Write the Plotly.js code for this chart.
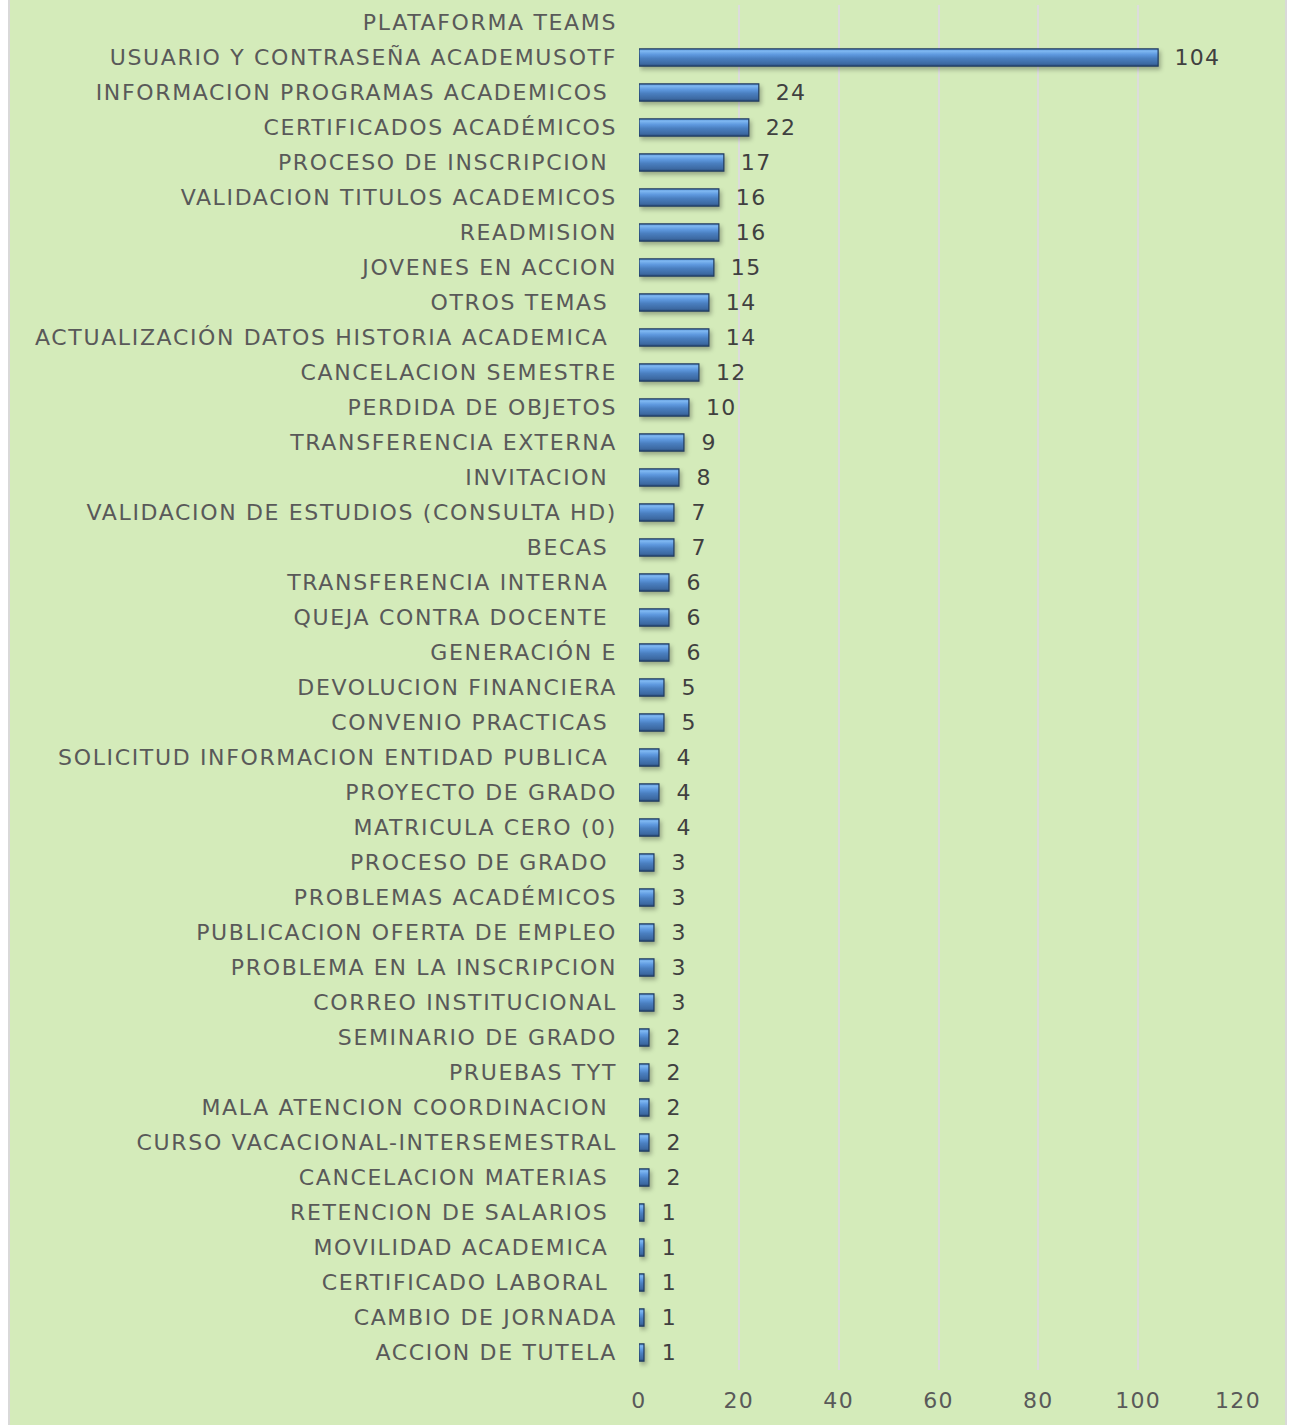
<!DOCTYPE html>
<html>
<head>
<meta charset="utf-8">
<script src="https://cdn.plot.ly/plotly-3.0.1.min.js"></script>
<style>
html,body{margin:0;padding:0;background:#ffffff;}
#wrap{position:absolute;left:8px;top:0;width:1279px;height:1425px;border-left:2px solid #d9d9d9;border-right:2px solid #d9d9d9;box-sizing:border-box;}
#chart{width:1275px;height:1425px;}
#chart .ytick text {letter-spacing:1.65px;}
#chart .xtick text, #chart .bartext text, #chart text.bartext {letter-spacing:1.3px;}
#chart .point path {filter: drop-shadow(2px 3px 2px rgba(0,0,0,0.28));}
</style>
</head>
<body>
<div id="wrap"><div id="chart"></div></div>
<script>
const NB = '\u00a0';
const categories = [
  'PLATAFORMA TEAMS',
  'USUARIO Y CONTRASEÑA ACADEMUSOTF',
  'INFORMACION PROGRAMAS ACADEMICOS' + NB,
  'CERTIFICADOS ACADÉMICOS',
  'PROCESO DE INSCRIPCION' + NB,
  'VALIDACION TITULOS ACADEMICOS',
  'READMISION',
  'JOVENES EN ACCION',
  'OTROS TEMAS' + NB,
  'ACTUALIZACIÓN DATOS HISTORIA ACADEMICA' + NB,
  'CANCELACION SEMESTRE',
  'PERDIDA DE OBJETOS',
  'TRANSFERENCIA EXTERNA',
  'INVITACION' + NB,
  'VALIDACION DE ESTUDIOS (CONSULTA HD)',
  'BECAS' + NB,
  'TRANSFERENCIA INTERNA' + NB,
  'QUEJA CONTRA DOCENTE' + NB,
  'GENERACIÓN E',
  'DEVOLUCION FINANCIERA',
  'CONVENIO PRACTICAS' + NB,
  'SOLICITUD INFORMACION ENTIDAD PUBLICA' + NB,
  'PROYECTO DE GRADO',
  'MATRICULA CERO (0)',
  'PROCESO DE GRADO' + NB,
  'PROBLEMAS ACADÉMICOS',
  'PUBLICACION OFERTA DE EMPLEO',
  'PROBLEMA EN LA INSCRIPCION',
  'CORREO INSTITUCIONAL',
  'SEMINARIO DE GRADO',
  'PRUEBAS TYT',
  'MALA ATENCION COORDINACION' + NB,
  'CURSO VACACIONAL-INTERSEMESTRAL',
  'CANCELACION MATERIAS' + NB,
  'RETENCION DE SALARIOS' + NB,
  'MOVILIDAD ACADEMICA' + NB,
  'CERTIFICADO LABORAL' + NB,
  'CAMBIO DE JORNADA',
  'ACCION DE TUTELA'
];
const values = [null, 104, 24, 22, 17, 16, 16, 15, 14, 14, 12, 10, 9, 8, 7, 7, 6, 6, 6, 5, 5, 4, 4, 4, 3, 3, 3, 3, 3, 2, 2, 2, 2, 2, 1, 1, 1, 1, 1];
const xTicks = [0, 20, 40, 60, 80, 100, 120];

const FONT = "'DejaVu Sans', Verdana, sans-serif";

const trace = {
  type: 'bar',
  orientation: 'h',
  y: categories,
  x: values,
  marker: {color: '#4a7ebb', line: {color: '#1f3a60', width: 1.2}},
  text: values.map(v => v === null ? '' : NB + NB + v),
  textposition: 'outside',
  constraintext: 'none',
  cliponaxis: false,
  textfont: {family: FONT, size: 22, color: '#404040'},
  hoverinfo: 'none'
};

const layout = {
  width: 1275,
  height: 1425,
  paper_bgcolor: '#d4ebba',
  plot_bgcolor: '#d4ebba',
  margin: {l: 629, r: 47, t: 5, b: 55},
  bargap: 0.51,
  showlegend: false,
  font: {family: FONT, size: 22, color: '#595959'},
  xaxis: {
    range: [0, 120],
    tickvals: xTicks,
    ticktext: xTicks.map(String),
    showgrid: true,
    gridcolor: '#dcdcdc',
    gridwidth: 2,
    zeroline: false,
    showline: false,
    ticks: '',
    ticklabelstandoff: 15,
    tickfont: {family: FONT, size: 22, color: '#595959'}
  },
  yaxis: {
    type: 'category',
    autorange: 'reversed',
    showgrid: false,
    zeroline: false,
    showline: false,
    ticks: '',
    ticklabelstandoff: 21,
    tickfont: {family: FONT, size: 22, color: '#595959'}
  }
};

Plotly.newPlot('chart', [trace], layout, {displayModeBar: false, staticPlot: true}).then(gd => {
  const svg = gd.querySelector('svg.main-svg');
  const ns = 'http://www.w3.org/2000/svg';
  let defs = svg.querySelector('defs');
  if (!defs) { defs = document.createElementNS(ns, 'defs'); svg.insertBefore(defs, svg.firstChild); }
  const grad = document.createElementNS(ns, 'linearGradient');
  grad.setAttribute('id', 'barBevel');
  grad.setAttribute('x1', '0'); grad.setAttribute('y1', '0');
  grad.setAttribute('x2', '0'); grad.setAttribute('y2', '1');
  [['0%', '#4f88cf'], ['12%', '#80b9f2'], ['32%', '#5f9ae0'], ['55%', '#4a7fc0'], ['85%', '#3d6aa3'], ['100%', '#2c4f80']].forEach(([o, c]) => {
    const s = document.createElementNS(ns, 'stop');
    s.setAttribute('offset', o); s.setAttribute('stop-color', c);
    grad.appendChild(s);
  });
  defs.appendChild(grad);
  gd.querySelectorAll('.bars .point path').forEach(p => { p.style.fill = 'url(#barBevel)'; });
});
</script>
</body>
</html>
